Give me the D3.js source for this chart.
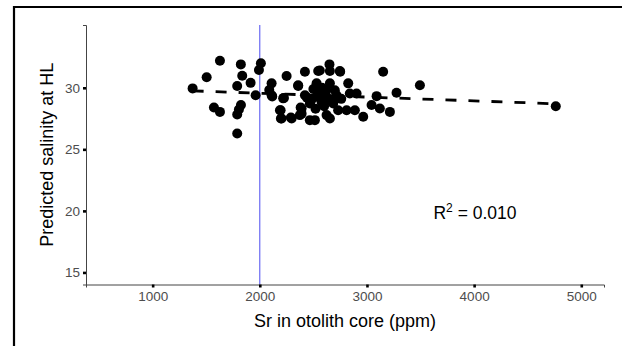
<!DOCTYPE html>
<html>
<head>
<meta charset="utf-8">
<script src="https://cdn.jsdelivr.net/npm/d3@7"></script>
<style>
  body { margin: 0; background: #fff; }
  text { font-family: "Liberation Sans", Arial, sans-serif; }
</style>
</head>
<body>
<div id="chart"></div>
<script>
// Sr in otolith core (ppm)
const srValues = [
  1373, 1504, 1628, 1572, 1628, 1823, 1836, 1914, 1789, 1824, 1805, 1789, 1789,
  2010, 1992, 1961, 2110, 2088, 2116, 2250, 2225, 2194, 2197, 2290, 2358, 2421,
  2381, 2390, 2545, 2654, 2747, 3151, 2358, 2530, 2654, 2825, 3494, 2110, 2218,
  2421, 2530, 2623, 2716, 2840, 2903, 2467, 2576, 2685, 3090, 3276, 2188, 2203,
  2297, 2390, 2374, 2467, 2514, 2623, 2654, 2731, 2810, 2887, 2965, 3043, 3120,
  3214, 2480, 2560, 2600, 2640, 2700, 2580, 2500, 2620, 2760, 2440, 2650, 2560,
  2750, 2520, 2600, 2680, 4762
];
// predicted salinity at HL
const salinityValues = [
  29.95, 30.85, 32.2, 28.4, 28.04, 31.9, 30.98, 30.4, 30.14, 28.6, 28.24, 27.83, 26.28,
  31.99, 31.44, 29.4, 30.36, 29.81, 29.3, 30.95, 29.18, 28.18, 27.5, 27.59, 30.14, 31.3,
  28.4, 27.9, 31.36, 31.36, 31.36, 31.3, 30.2, 30.36, 30.36, 30.36, 30.2, 29.4, 29.14,
  29.4, 29.27, 29.27, 29.4, 29.54, 29.54, 28.73, 28.86, 28.73, 29.32, 29.6, 28.18, 27.5,
  27.5, 28.32, 27.78, 27.37, 27.37, 27.78, 27.5, 28.18, 28.18, 28.18, 27.64, 28.6, 28.32,
  28.04, 29.0, 29.6, 28.5, 29.0, 29.8, 30.0, 29.9, 29.8, 29.1, 29.2, 31.9, 31.4,
  31.3, 28.3, 29.3, 28.9, 28.5
];
// lm fit
const fitIntercept = 30.176;
const fitSlope = -0.00031;
const rSquared = "0.010";
const refLineSr = 2000;

const xTicks = [1000, 2000, 3000, 4000, 5000];
const yTicks = [15, 20, 25, 30];

const W = 622, H = 346;
const panel = { left: 86, right: 604, top: 25, bottom: 284.5 };

const svg = d3.select("#chart").append("svg")
  .attr("width", W).attr("height", H);

// outer frame (cropped at right and bottom)
svg.append("path")
  .attr("d", `M14,${H + 5} L14,7 L${W + 5},7`)
  .attr("fill", "none").attr("stroke", "#000").attr("stroke-width", 2.2);

const x = d3.scaleLinear().domain([378, 5212]).range([panel.left, panel.right]);
const y = d3.scaleLinear().domain([14.02, 35.1]).range([panel.bottom, panel.top]);

const data = srValues.map((v, i) => ({ sr: v, sal: salinityValues[i] }));

// vertical reference line
svg.append("line")
  .attr("x1", x(refLineSr)).attr("x2", x(refLineSr))
  .attr("y1", panel.top).attr("y2", panel.bottom)
  .attr("stroke", "#4c4cf0").attr("stroke-width", 1);

// points
svg.append("g").selectAll("circle")
  .data(data)
  .join("circle")
  .attr("cx", d => x(d.sr))
  .attr("cy", d => y(d.sal))
  .attr("r", 5)
  .attr("fill", "#000");

// dashed regression line
const xMin = d3.min(srValues), xMax = d3.max(srValues);
svg.append("line")
  .attr("x1", x(xMin)).attr("y1", y(fitIntercept + fitSlope * xMin))
  .attr("x2", x(xMax)).attr("y2", y(fitIntercept + fitSlope * xMax))
  .attr("stroke", "#000").attr("stroke-width", 2.8)
  .attr("stroke-dasharray", "11,12");

// axes
const xAxis = svg.append("g")
  .attr("transform", `translate(0,${panel.bottom})`)
  .call(d3.axisBottom(x).tickValues(xTicks).tickSize(3).tickPadding(4).tickFormat(d3.format("d")));
const yAxis = svg.append("g")
  .attr("transform", `translate(${panel.left},0)`)
  .call(d3.axisLeft(y).tickValues(yTicks).tickSize(3).tickPadding(3));

[xAxis, yAxis].forEach(ax => {
  ax.select(".domain").attr("stroke", "#444").attr("stroke-width", 1);
  ax.selectAll(".tick line").attr("stroke", "#000").attr("stroke-width", 2.6);
  ax.selectAll(".tick text")
    .attr("fill", "#4d4d4d")
    .style("font-size", "13.5px")
    .style("font-family", '"Liberation Sans", Arial, sans-serif');
});

// axis titles
svg.append("text")
  .attr("x", (panel.left + panel.right) / 2)
  .attr("y", 327)
  .attr("text-anchor", "middle")
  .style("font-size", "18px")
  .attr("fill", "#000")
  .text("Sr in otolith core (ppm)");

svg.append("text")
  .attr("transform", `translate(53,${(panel.top + panel.bottom) / 2}) rotate(-90)`)
  .attr("text-anchor", "middle")
  .style("font-size", "18px")
  .attr("fill", "#000")
  .text("Predicted salinity at HL");

// R² annotation
const r2 = svg.append("text")
  .attr("x", 475).attr("y", 219)
  .attr("text-anchor", "middle")
  .style("font-size", "17.5px")
  .attr("fill", "#000");
r2.append("tspan").text("R");
r2.append("tspan").attr("dy", -7).style("font-size", "12px").text("2");
r2.append("tspan").attr("dy", 7).text(" = " + rSquared);
</script>
</body>
</html>
